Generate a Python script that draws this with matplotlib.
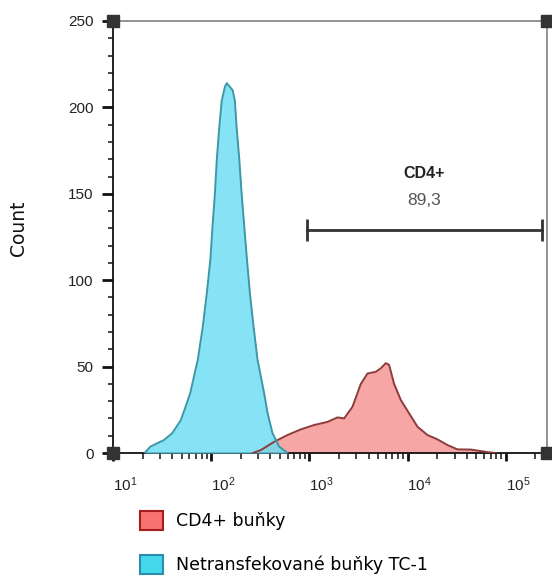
import matplotlib
matplotlib.use("Agg")
import matplotlib.pyplot as plt
from matplotlib.patches import Patch
from matplotlib.transforms import ScaledTranslation
from matplotlib.ticker import FixedLocator, NullFormatter

plt.rcParams["mathtext.fontset"] = "custom"
plt.rcParams["mathtext.rm"] = "Liberation Sans"
plt.rcParams["mathtext.it"] = "Liberation Sans:italic"
plt.rcParams["mathtext.bf"] = "Liberation Sans:bold"

# Unstained TC-1 cells (fluorescence intensity, event count)
tc1_intensity = [21, 24, 33, 40, 49, 55, 61, 73, 82, 90, 98, 103, 109, 114,
                 121, 128, 138, 144, 165, 174, 181, 193, 204, 217, 231, 248,
                 270, 296, 346, 375, 421, 492, 598]
tc1_count = [0, 3.7, 7.5, 11.4, 19, 27, 34.5, 54, 73, 92, 112, 131, 150, 170,
             189, 204, 212, 214, 210, 204, 189, 170, 150, 131, 112, 92,
             73, 54, 34.5, 23, 11.4, 3.7, 0]

# CD4+ cells (fluorescence intensity, event count)
cd4_intensity = [265, 320, 438, 598, 818, 1117, 1528, 1931, 2255, 2743, 3334,
                 3899, 4733, 5321, 5984, 6468, 7271, 8511, 10330, 12590,
                 15900, 20090, 25400, 32100, 43850, 65300, 78700]
cd4_count = [0, 1.7, 6.5, 10.4, 13.7, 16.2, 18, 20.6, 20, 26.8, 40,
             46, 47, 49, 52, 51, 40, 30.7, 23, 15.2,
             10.4, 7.9, 4.6, 2.1, 2, 0.5, 0]

# Gate
gate_name = "CD4+"
gate_value = "89,3"
gate_range = [940, 231000]
gate_level = 129

x_ticks = [1e1, 1e2, 1e3, 1e4, 1e5]
x_tick_labels = [r"$10^{1}$", r"$10^{2}$", r"$10^{3}$", r"$10^{4}$", r"$10^{5}$"]
y_ticks = [0, 50, 100, 150, 200, 250]
legend_labels = ["CD4+ buňky", "Netransfekované buňky TC-1"]

fig = plt.figure(figsize=(5.52, 5.81), dpi=100)
ax = fig.add_axes([0.2047, 0.2203, 0.7863, 0.7436])

ax.set_xscale("log")
ax.set_xlim(10, 262144)
ax.set_ylim(0, 250)

# Histograms
ax.fill_between(cd4_intensity, cd4_count, 0, color="#f79c9c", alpha=0.9,
                lw=0, zorder=2)
ax.plot(cd4_intensity, cd4_count, color="#8e3b3b", lw=1.4, zorder=4)
ax.fill_between(tc1_intensity, tc1_count, 0, color="#6bdcf3", alpha=0.82,
                lw=0, zorder=3)
ax.plot(tc1_intensity, tc1_count, color="#3d98a6", lw=1.4, zorder=5)

# Gate bar with end caps
ax.plot(gate_range, [gate_level, gate_level], color="#333333", lw=2,
        marker="|", markersize=16, mew=2, zorder=6)
gate_center = (gate_range[0] * gate_range[1]) ** 0.5
ax.text(gate_center, 162, gate_name, ha="center", va="center",
        fontsize=11.5, fontweight="bold", color="#222222",
        family="Liberation Sans")
ax.text(gate_center, 146, gate_value, ha="center", va="center",
        fontsize=12.5, color="#555555", family="Liberation Sans")

# Spines
for side in ("top", "right"):
    ax.spines[side].set_color("#8a8a8a")
    ax.spines[side].set_linewidth(1.3)
for side in ("left", "bottom"):
    ax.spines[side].set_color("#111111")
    ax.spines[side].set_linewidth(1.3)

# Corner markers
for cx, cy in [(0, 0), (0, 1), (1, 1), (1, 0)]:
    ax.plot(cx, cy, marker="s", markersize=8, color="#333333",
            transform=ax.transAxes, clip_on=False, zorder=10)

# Ticks
ax.xaxis.set_major_locator(FixedLocator(x_ticks))
ax.set_xticklabels(x_tick_labels)
minor_x = [m * 10 ** e for e in range(1, 6) for m in range(2, 10)]
minor_x = [v for v in minor_x if v <= 262144]
ax.xaxis.set_minor_locator(FixedLocator(minor_x))
ax.xaxis.set_minor_formatter(NullFormatter())
ax.yaxis.set_major_locator(FixedLocator(y_ticks))
ax.yaxis.set_minor_locator(FixedLocator(list(range(0, 251, 10))))
ax.tick_params(axis="both", which="both", direction="out", color="#111111",
               labelcolor="#222222")
ax.tick_params(axis="y", which="major", length=8, width=2, pad=6,
               labelsize=11)
ax.tick_params(axis="y", which="minor", length=3.8, width=1.1)
ax.tick_params(axis="x", which="major", length=6, width=2, pad=10,
               labelsize=11)
ax.tick_params(axis="x", which="minor", length=4, width=1.1)
for lab in ax.get_yticklabels():
    lab.set_family("Liberation Sans")
shift = ScaledTranslation(0.12, 0, fig.dpi_scale_trans)
for lab in ax.get_xticklabels():
    lab.set_transform(lab.get_transform() + shift)

fig.text(0.034, 0.607, "Count", rotation=90, ha="center", va="center",
         fontsize=13.5, family="DejaVu Sans", color="#111111")

handles = [
    Patch(facecolor="#f87272", edgecolor="#a41e1e", lw=1.5),
    Patch(facecolor="#44d8ec", edgecolor="#2a8db0", lw=1.5),
]
fig.legend(handles, legend_labels, loc="upper left",
           bbox_to_anchor=(0.254, 0.121), frameon=False,
           prop={"family": "DejaVu Sans", "size": 12.5},
           handlelength=1.3, handleheight=1.3, handletextpad=0.75,
           labelspacing=1.45, borderpad=0, borderaxespad=0)

fig.savefig("out.png", dpi=100)
